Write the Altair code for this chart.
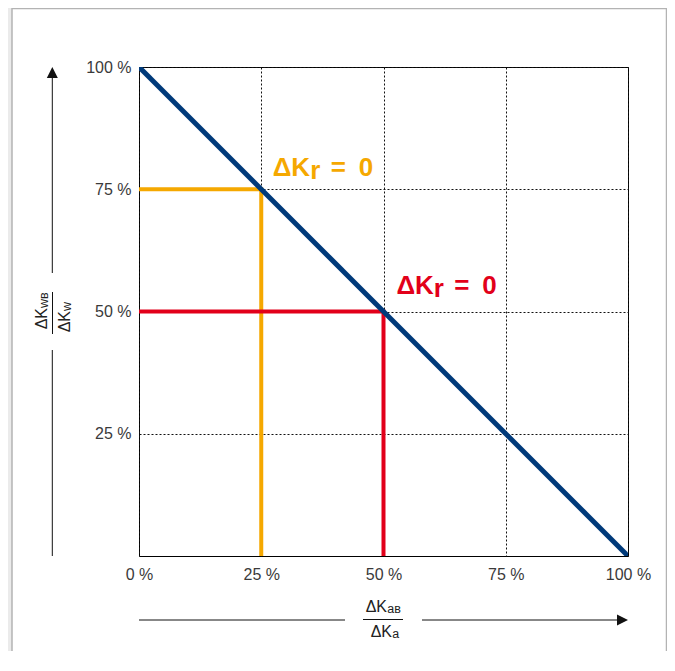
import altair as alt
import pandas as pd

# ---------------- data ----------------
x_tick_values = [0, 25, 50, 75, 100]
y_tick_values = [25, 50, 75, 100]
diag_x = [0, 100]
diag_y = [100, 0]
orange_x = [0, 25, 25]
orange_y = [75, 75, 0]
red_x = [0, 50, 50]
red_y = [50, 50, 0]
label_x = [35.0, 60.3]
label_y = [77.7, 53.6]
label_color = ["#f5a800", "#e2001a"]

BLUE = "#003a7a"
ORANGE = "#f5a800"
RED = "#e2001a"
FONT = "Liberation Sans"
W = H = 489

xs = alt.Scale(domain=[0, 100], nice=False, zero=False)
ys = alt.Scale(domain=[0, 100], nice=False, zero=False)

xaxis = alt.Axis(values=x_tick_values, labelExpr="datum.value + ' %'", grid=True,
                 gridDash=[2, 2], gridColor="#111111", gridWidth=1, ticks=False,
                 domain=False, labelFontSize=16, labelFont=FONT, labelColor="#3a3a3a",
                 labelPadding=10, labelFlush=False, labelOverlap=False,
                 labelBaseline="top", title=None)
yaxis = alt.Axis(values=y_tick_values, labelExpr="datum.value + ' %'", grid=True,
                 gridDash=[2, 2], gridColor="#111111", gridWidth=1, ticks=False,
                 domain=False, labelFontSize=16, labelFont=FONT, labelColor="#3a3a3a",
                 labelPadding=8, labelFlush=False, labelOverlap=False, title=None)


def path(xv, yv, color, width):
    df = pd.DataFrame({"x": xv, "y": yv, "i": list(range(len(xv)))})
    return alt.Chart(df).mark_line(color=color, strokeWidth=width, clip=True,
                                   strokeJoin="miter").encode(
        x=alt.X("x:Q", scale=xs, axis=xaxis),
        y=alt.Y("y:Q", scale=ys, axis=yaxis),
        order="i:O",
    )


orange = path(orange_x, orange_y, ORANGE, 4)
red = path(red_x, red_y, RED, 4)
blue = path(diag_x, diag_y, BLUE, 5)

lab_df = pd.DataFrame({"x": label_x, "y": label_y, "c": label_color})
lab_base = alt.Chart(lab_df).encode(
    x=alt.X("x:Q", scale=xs, axis=xaxis),
    y=alt.Y("y:Q", scale=ys, axis=yaxis),
    color=alt.Color("c:N", scale=None),
)
LS = 26
lab1 = lab_base.mark_text(align="right", baseline="alphabetic", fontSize=LS,
                          fontWeight="bold", font=FONT).encode(text=alt.value("ΔK"))
lab2 = lab_base.mark_text(align="left", baseline="alphabetic", fontSize=LS,
                          fontWeight="bold", font=FONT, dy=3).encode(text=alt.value("r"))
lab3 = lab_base.mark_text(align="left", baseline="alphabetic", fontSize=LS,
                          fontWeight="bold", font=FONT, dx=20.5).encode(text=alt.value("="))
lab4 = lab_base.mark_text(align="left", baseline="alphabetic", fontSize=LS,
                          fontWeight="bold", font=FONT, dx=48.5).encode(text=alt.value("0"))

# ---------------- decorations (pixel positions relative to plot origin) -------------
dummy = alt.Chart(pd.DataFrame({"d": [0]}))


def rule(x1, x2, y1, y2, color="#111111", w=1.0):
    return dummy.mark_rule(color=color, strokeWidth=w).encode(
        x=alt.value(x1), x2=alt.value(x2), y=alt.value(y1), y2=alt.value(y2))


def txt(s, x, y, size=16, align="left", angle=0):
    return dummy.mark_text(text=s, align=align, baseline="alphabetic", fontSize=size,
                           font=FONT, color="#222222", angle=angle).encode(
        x=alt.value(x), y=alt.value(y))


shadow = dummy.mark_rect(color="#ebebeb").encode(
    x=alt.value(-131), x2=alt.value(-127), y=alt.value(-59), y2=alt.value(591))
frame = [
    rule(-127, 527.5, -58.5, -58.5, "#b3b3b3", 1.5),
    rule(-127, -127, -59, 591, "#b3b3b3", 1.5),
    rule(527.5, 527.5, -59, 591, "#b3b3b3", 1.5),
]

# x arrow
x_arrow = [
    rule(0, 206, 553, 553),
    rule(283, 484, 553, 553),
    dummy.mark_point(shape="M1,0L-1,-1L-1,1Z", size=121, filled=True, color="#111111",
                     opacity=1).encode(x=alt.value(483.5), y=alt.value(553)),
]
# y arrow
y_arrow = [
    rule(-86.7, -86.7, 6, 206),
    rule(-86.7, -86.7, 283, 489),
    dummy.mark_point(shape="M0,-1L1,1L-1,1Z", size=121, filled=True, color="#111111",
                     opacity=1).encode(x=alt.value(-86.7), y=alt.value(5.5)),
]

# x fraction
x_frac = [
    txt("ΔK", 248, 544.7, 16, "right"),
    txt("aʙ", 248.3, 545.5, 12.5, "left"),
    rule(224, 264, 552.5, 552.5),
    txt("ΔK", 253, 569.7, 16, "right"),
    txt("a", 253.3, 570.5, 12.5, "left"),
]
# y fraction (rotated)
y_frac = [
    txt("ΔK", -92.3, 241, 16, "right", 270),
    txt("ᴡʙ", -91.5, 241, 12.5, "left", 270),
    rule(-86.5, -86.5, 225, 267),
    txt("ΔK", -69, 244, 16, "right", 270),
    txt("ᴡ", -68.2, 244, 12.5, "left", 270),
]

chart = alt.layer(
    shadow, *frame, orange, red, blue, lab1, lab2, lab3, lab4,
    *x_arrow, *y_arrow, *x_frac, *y_frac,
).properties(
    width=W, height=H,
    autosize=alt.AutoSizeParams(type="none"),
    padding={"left": 131, "top": 59, "right": 39, "bottom": 95},
    background="white",
).configure_view(stroke="black", strokeWidth=1)

chart.save("out.html", embed_options={"renderer": "svg", "actions": False})
